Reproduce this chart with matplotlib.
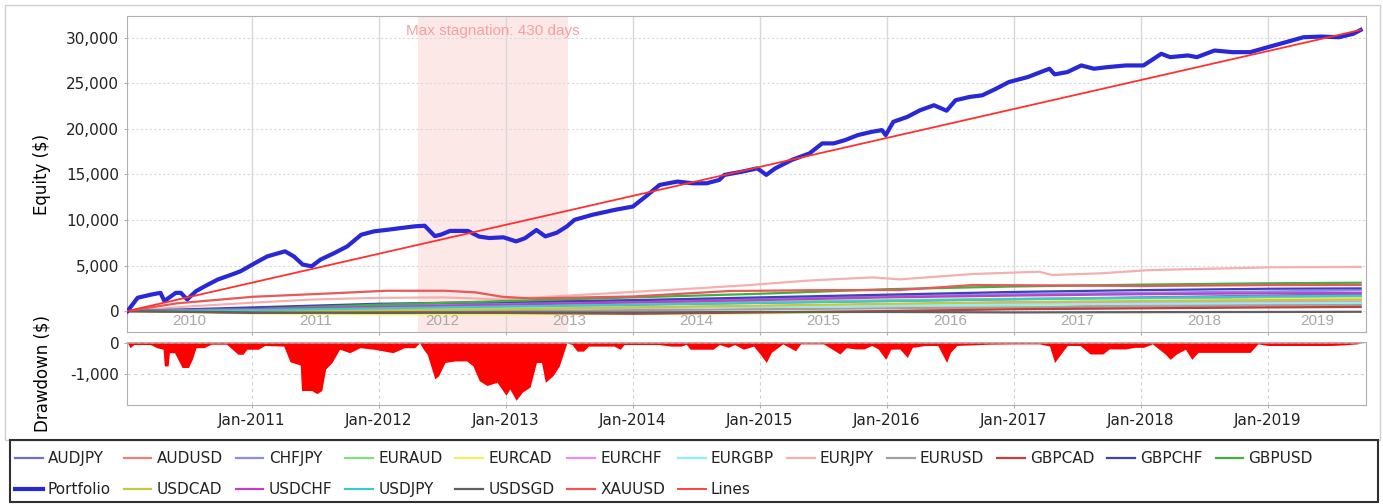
import numpy as np
import matplotlib
matplotlib.use('Agg')
import matplotlib.pyplot as plt
import matplotlib.transforms as mtransforms
from matplotlib.patches import Rectangle
from matplotlib.ticker import FuncFormatter

plt.rcParams['font.family'] = ['DejaVu Sans']

# -- portfolio equity (fractional years, $)
pf_years = [2010.02, 2010.10, 2010.21, 2010.28, 2010.31, 2010.40, 2010.44, 2010.49, 2010.56, 2010.63,
            2010.73, 2010.84, 2010.91, 2010.98, 2011.05, 2011.12, 2011.26, 2011.33, 2011.40, 2011.47,
            2011.54, 2011.65, 2011.75, 2011.86, 2011.96, 2012.07, 2012.17, 2012.28, 2012.36, 2012.44,
            2012.49, 2012.56, 2012.70, 2012.79, 2012.87, 2012.98, 2013.08, 2013.15, 2013.24, 2013.31,
            2013.40, 2013.48, 2013.54, 2013.68, 2013.86, 2014.00, 2014.10, 2014.21, 2014.35, 2014.47,
            2014.58, 2014.68, 2014.72, 2014.86, 2014.98, 2015.05, 2015.12, 2015.25, 2015.39, 2015.49,
            2015.58, 2015.67, 2015.77, 2015.88, 2015.96, 2015.99, 2016.05, 2016.16, 2016.26, 2016.37,
            2016.47, 2016.54, 2016.65, 2016.75, 2016.86, 2016.96, 2017.11, 2017.21, 2017.28, 2017.32,
            2017.42, 2017.53, 2017.63, 2017.74, 2017.88, 2018.02, 2018.16, 2018.23, 2018.37, 2018.44,
            2018.58, 2018.72, 2018.86, 2019.00, 2019.14, 2019.28, 2019.42, 2019.56, 2019.67, 2019.73]
pf_equity = [0, 1460, 1820, 2000, 1100, 2000, 2000, 1280, 2190, 2730,
             3460, 4000, 4370, 4920, 5470, 6000, 6560, 6000, 5100, 4920,
             5650, 6380, 7100, 8380, 8750, 8930, 9110, 9300, 9370, 8230,
             8400, 8800, 8800, 8170, 8020, 8100, 7650, 8000, 8900, 8200,
             8600, 9300, 10020, 10570, 11120, 11480, 12580, 13850, 14220, 14030,
             14030, 14400, 14950, 15310, 15670, 14950, 15670, 16590, 17310, 18410,
             18410, 18770, 19320, 19680, 19870, 19320, 20780, 21320, 22050, 22600,
             22000, 23150, 23510, 23690, 24420, 25150, 25700, 26240, 26610, 25990,
             26240, 26970, 26610, 26790, 26970, 26970, 28250, 27880, 28070, 27880,
             28610, 28430, 28430, 28980, 29520, 30070, 30140, 30070, 30440, 30870]

# -- per-symbol equity, yearly readings
sym_years = [2010.02, 2011, 2012, 2013, 2014, 2015, 2016, 2017, 2018, 2019, 2019.73]
audjpy = [0, 150, 350, 500, 700, 900, 1100, 1300, 1500, 1700, 1850]
audusd = [0, -150, 50, 250, 400, 500, 600, 650, 700, 750, 800]
chfjpy = [0, 250, 550, 800, 1050, 1300, 1600, 1850, 2000, 2150, 2270]
euraud = [0, 50, 300, 600, 800, 1000, 1200, 1350, 1400, 1450, 1500]
eurcad = [0, -250, -350, -350, -300, -250, -50, 500, 1000, 1300, 1390]
eurchf = [0, 50, 200, 300, 400, 500, 700, 850, 950, 1000, 1030]
eurgbp = [0, 100, 200, 300, 400, 500, 600, 700, 800, 850, 880]
eurusd = [0, -150, -100, 0, 100, 200, 300, 400, 500, 600, 660]
gbpcad = [0, -200, -150, -200, -300, -150, 0, 200, 300, 400, 450]
gbpchf = [0, 400, 800, 1000, 1200, 1500, 1800, 2100, 2300, 2450, 2490]
gbpusd = [0, 200, 700, 1100, 1500, 1900, 2400, 2700, 2900, 3050, 3110]
usdcad = [0, 0, 100, 200, 400, 600, 800, 1000, 1100, 1200, 1250]
usdchf = [0, 200, 450, 700, 950, 1200, 1500, 1700, 1850, 1950, 1980]
usdjpy = [0, 100, 300, 500, 700, 900, 1100, 1300, 1450, 1600, 1680]
usdsgd = [0, -150, -200, -150, -150, -100, -100, -150, -120, -100, -80]

eurjpy_years = [2010.02, 2010.5, 2011.0, 2011.5, 2012.0, 2012.5, 2012.97, 2013.5, 2014.0, 2014.5, 2014.92,
                2015.37, 2015.89, 2016.1, 2016.68, 2017.2, 2017.3, 2017.68, 2018.07, 2019.02, 2019.73]
eurjpy = [0, 500, 920, 1280, 1450, 1500, 1280, 1700, 2100, 2490, 2860,
          3340, 3700, 3480, 4070, 4320, 3960, 4140, 4500, 4800, 4850]
xauusd_years = [2010.02, 2010.41, 2011.01, 2011.62, 2012.06, 2012.52, 2012.76, 2012.97, 2013.19, 2014.0,
                2014.76, 2015.5, 2016.1, 2016.68, 2017.5, 2018.0, 2019.0, 2019.73]
xauusd = [0, 850, 1570, 1940, 2230, 2230, 2050, 1570, 1390, 1600,
          2200, 2300, 2310, 2860, 2800, 2750, 2850, 2860]

# -- drawdown ($)
dd_years = [2010.02, 2010.04, 2010.07, 2010.20, 2010.25, 2010.30, 2010.31, 2010.34, 2010.35, 2010.39,
            2010.45, 2010.50, 2010.53, 2010.56, 2010.62, 2010.68, 2010.80, 2010.89, 2010.93, 2010.96,
            2011.05, 2011.10, 2011.25, 2011.30, 2011.38, 2011.39, 2011.47, 2011.51, 2011.55, 2011.58,
            2011.63, 2011.69, 2011.77, 2011.85, 2011.96, 2012.03, 2012.11, 2012.20, 2012.28, 2012.32,
            2012.35, 2012.38, 2012.44, 2012.47, 2012.52, 2012.60, 2012.69, 2012.74, 2012.79, 2012.85,
            2012.93, 2013.00, 2013.03, 2013.08, 2013.13, 2013.19, 2013.24, 2013.28, 2013.31, 2013.37,
            2013.42, 2013.48, 2013.52, 2013.56, 2013.61, 2013.65, 2013.85, 2013.90, 2013.93, 2014.20,
            2014.30, 2014.38, 2014.42, 2014.45, 2014.63, 2014.68, 2014.75, 2014.80, 2014.87, 2014.95,
            2015.00, 2015.05, 2015.09, 2015.18, 2015.28, 2015.32, 2015.50, 2015.63, 2015.68, 2015.75,
            2015.82, 2015.88, 2015.93, 2015.99, 2016.03, 2016.10, 2016.16, 2016.20, 2016.30, 2016.40,
            2016.47, 2016.50, 2016.55, 2016.80, 2017.00, 2017.20, 2017.28, 2017.32, 2017.36, 2017.42,
            2017.52, 2017.60, 2017.70, 2017.75, 2017.88, 2017.95, 2018.02, 2018.09, 2018.19, 2018.23,
            2018.28, 2018.35, 2018.40, 2018.45, 2018.86, 2018.92, 2019.00, 2019.50, 2019.60, 2019.70,
            2019.73]
dd_vals = [0, -150, -50, -50, -150, -200, -730, -730, -310, -310,
           -780, -780, -520, -150, -150, -40, -40, -360, -360, -200,
           -200, -80, -100, -600, -700, -1510, -1510, -1610, -1510, -830,
           -620, -200, -310, -150, -200, -250, -310, -150, -150, 0,
           -200, -360, -1140, -1040, -620, -570, -570, -730, -1200, -1350,
           -1250, -1660, -1460, -1820, -1560, -1400, -620, -620, -1250, -1040,
           -730, 0, -50, -260, -260, -100, -100, -200, -50, -50,
           -100, -100, -40, -200, -200, -50, -140, -50, -200, -100,
           -350, -620, -300, -30, -250, -30, -30, -350, -150, -190,
           -190, -80, -190, -520, -200, -190, -460, -140, -80, -80,
           -620, -300, -80, -40, -30, -30, -100, -620, -400, -80,
           -80, -350, -350, -190, -190, -140, -140, -30, -350, -520,
           -350, -200, -520, -300, -300, -30, -80, -80, -60, -30,
           -10]

stag_start, stag_end = 2012.31, 2013.49
year_ticks = [2011, 2012, 2013, 2014, 2015, 2016, 2017, 2018, 2019]

symbols = [
    ('AUDJPY', sym_years, audjpy, '#7070d0'),
    ('AUDUSD', sym_years, audusd, '#f08080'),
    ('CHFJPY', sym_years, chfjpy, '#8c8cf0'),
    ('EURAUD', sym_years, euraud, '#80e080'),
    ('EURCAD', sym_years, eurcad, '#f0f060'),
    ('EURCHF', sym_years, eurchf, '#e890e8'),
    ('EURGBP', sym_years, eurgbp, '#90f0f0'),
    ('EURJPY', eurjpy_years, eurjpy, '#f4b0b0'),
    ('EURUSD', sym_years, eurusd, '#a0a0a0'),
    ('GBPCAD', sym_years, gbpcad, '#c04040'),
    ('GBPCHF', sym_years, gbpchf, '#4040b8'),
    ('GBPUSD', sym_years, gbpusd, '#40b040'),
    ('USDCAD', sym_years, usdcad, '#c8c840'),
    ('USDCHF', sym_years, usdchf, '#c040c8'),
    ('USDJPY', sym_years, usdjpy, '#40c8c8'),
    ('USDSGD', sym_years, usdsgd, '#606060'),
    ('XAUUSD', xauusd_years, xauusd, '#e85858'),
]

W, H = 1383, 504
fig = plt.figure(figsize=(W / 100, H / 100), dpi=100)
# outer chart border and legend box
fig.patches.append(Rectangle((5 / W, 1 - 440 / H), 1375 / W, 435 / H, transform=fig.transFigure,
                             fill=False, edgecolor='#d0d0d0', linewidth=1))
fig.patches.append(Rectangle((10 / W, 2 / H), 1368 / W, 62 / H, transform=fig.transFigure,
                             fill=False, edgecolor='#303030', linewidth=1.5))

xmin, xmax = 2010.016, 2019.772
ax1 = fig.add_axes([127 / W, 1 - 332 / H, 1239 / W, 316 / H])
ax2 = fig.add_axes([127 / W, 1 - 405 / H, 1239 / W, 63 / H])

# -- equity panel
ax1.axvspan(stag_start, stag_end, color='#fde8e8', zorder=0, linewidth=0)
handles = {}
for name, yrs, vals, col in symbols:
    ln, = ax1.plot(yrs, vals, color=col, linewidth=1.6, label=name, zorder=2)
    handles[name] = ln
pf_line, = ax1.plot(pf_years, pf_equity, color='#2828d8', linewidth=3, label='Portfolio', zorder=3)
handles['Portfolio'] = pf_line
trend, = ax1.plot([pf_years[0], pf_years[-1]], [pf_equity[0], pf_equity[-1]],
                  color='#ff3030', linewidth=1.3, label='Lines', zorder=4)
handles['Lines'] = trend

ax1.set_xlim(xmin, xmax)
ax1.set_ylim(-2300, 32400)
ax1.set_yticks(range(0, 30001, 5000))
ax1.yaxis.set_major_formatter(FuncFormatter(lambda v, p: f'{int(v):,}'))
ax1.set_xticks(year_ticks)
ax1.set_xticklabels([])
ax1.grid(axis='x', color='#d8d8d8', linewidth=1, linestyle='-')
ax1.grid(axis='y', color='#d8d8d8', linewidth=0.8, linestyle=(0, (2, 2)))
ax1.set_axisbelow(True)
ax1.set_ylabel('Equity ($)', fontsize=12)

trans = mtransforms.blended_transform_factory(ax1.transData, ax1.transAxes)
for yr in range(2010, 2020):
    lo, hi = max(yr, xmin), min(yr + 1, xmax)
    ax1.text((lo + hi) / 2, 0.035, str(yr), transform=trans, ha='center', va='center',
             fontsize=11, color='#a8a8a8', family='Liberation Sans', zorder=5)
ax1.text((stag_start + stag_end) / 2, 0.952, 'Max stagnation: 430 days', transform=trans,
         ha='center', va='center', fontsize=11, color='#f4a0a0', family='Liberation Sans')

# -- drawdown panel
ax2.fill_between(dd_years, dd_vals, 0, color='#ff0000', linewidth=0, zorder=2)
ax2.set_xlim(xmin, xmax)
ax2.set_ylim(-1970, 30)
ax2.set_yticks([-1000, 0])
ax2.yaxis.set_major_formatter(FuncFormatter(lambda v, p: f'{int(v):,}'))
ax2.set_xticks(year_ticks)
ax2.set_xticklabels([f'Jan-{y}' for y in year_ticks])
ax2.grid(color='#d0d0d0', linewidth=0.8, linestyle=(0, (3, 3)))
ax2.set_axisbelow(True)
ax2.set_ylabel('Drawdown ($)', fontsize=12)

for ax in (ax1, ax2):
    for s in ax.spines.values():
        s.set_color('#b0b0b0')
    ax.tick_params(labelsize=11, colors='#222222', length=2, color='#b0b0b0')
ax1.yaxis.set_label_coords(-0.061, 0.5)
ax2.yaxis.set_label_coords(-0.061, 0.5)

# -- legend: two rows, filled row-wise
row1 = ['AUDJPY', 'AUDUSD', 'CHFJPY', 'EURAUD', 'EURCAD', 'EURCHF', 'EURGBP', 'EURJPY',
        'EURUSD', 'GBPCAD', 'GBPCHF', 'GBPUSD']
row2 = ['Portfolio', 'USDCAD', 'USDCHF', 'USDJPY', 'USDSGD', 'XAUUSD', 'Lines']
order = []
for i, n in enumerate(row1):
    order.append(n)
    if i < len(row2):
        order.append(row2[i])
leg = fig.legend([handles[n] for n in order], order, ncol=12, loc='center left',
                 bbox_to_anchor=(15 / W, 1 - 474 / H), borderaxespad=0, borderpad=0,
                 fontsize=11, handlelength=1.8, handletextpad=0.35, columnspacing=0.85,
                 labelspacing=1.05, frameon=False)
for t in leg.get_texts():
    t.set_color('#222222')

fig.savefig('out.png', dpi=100)
